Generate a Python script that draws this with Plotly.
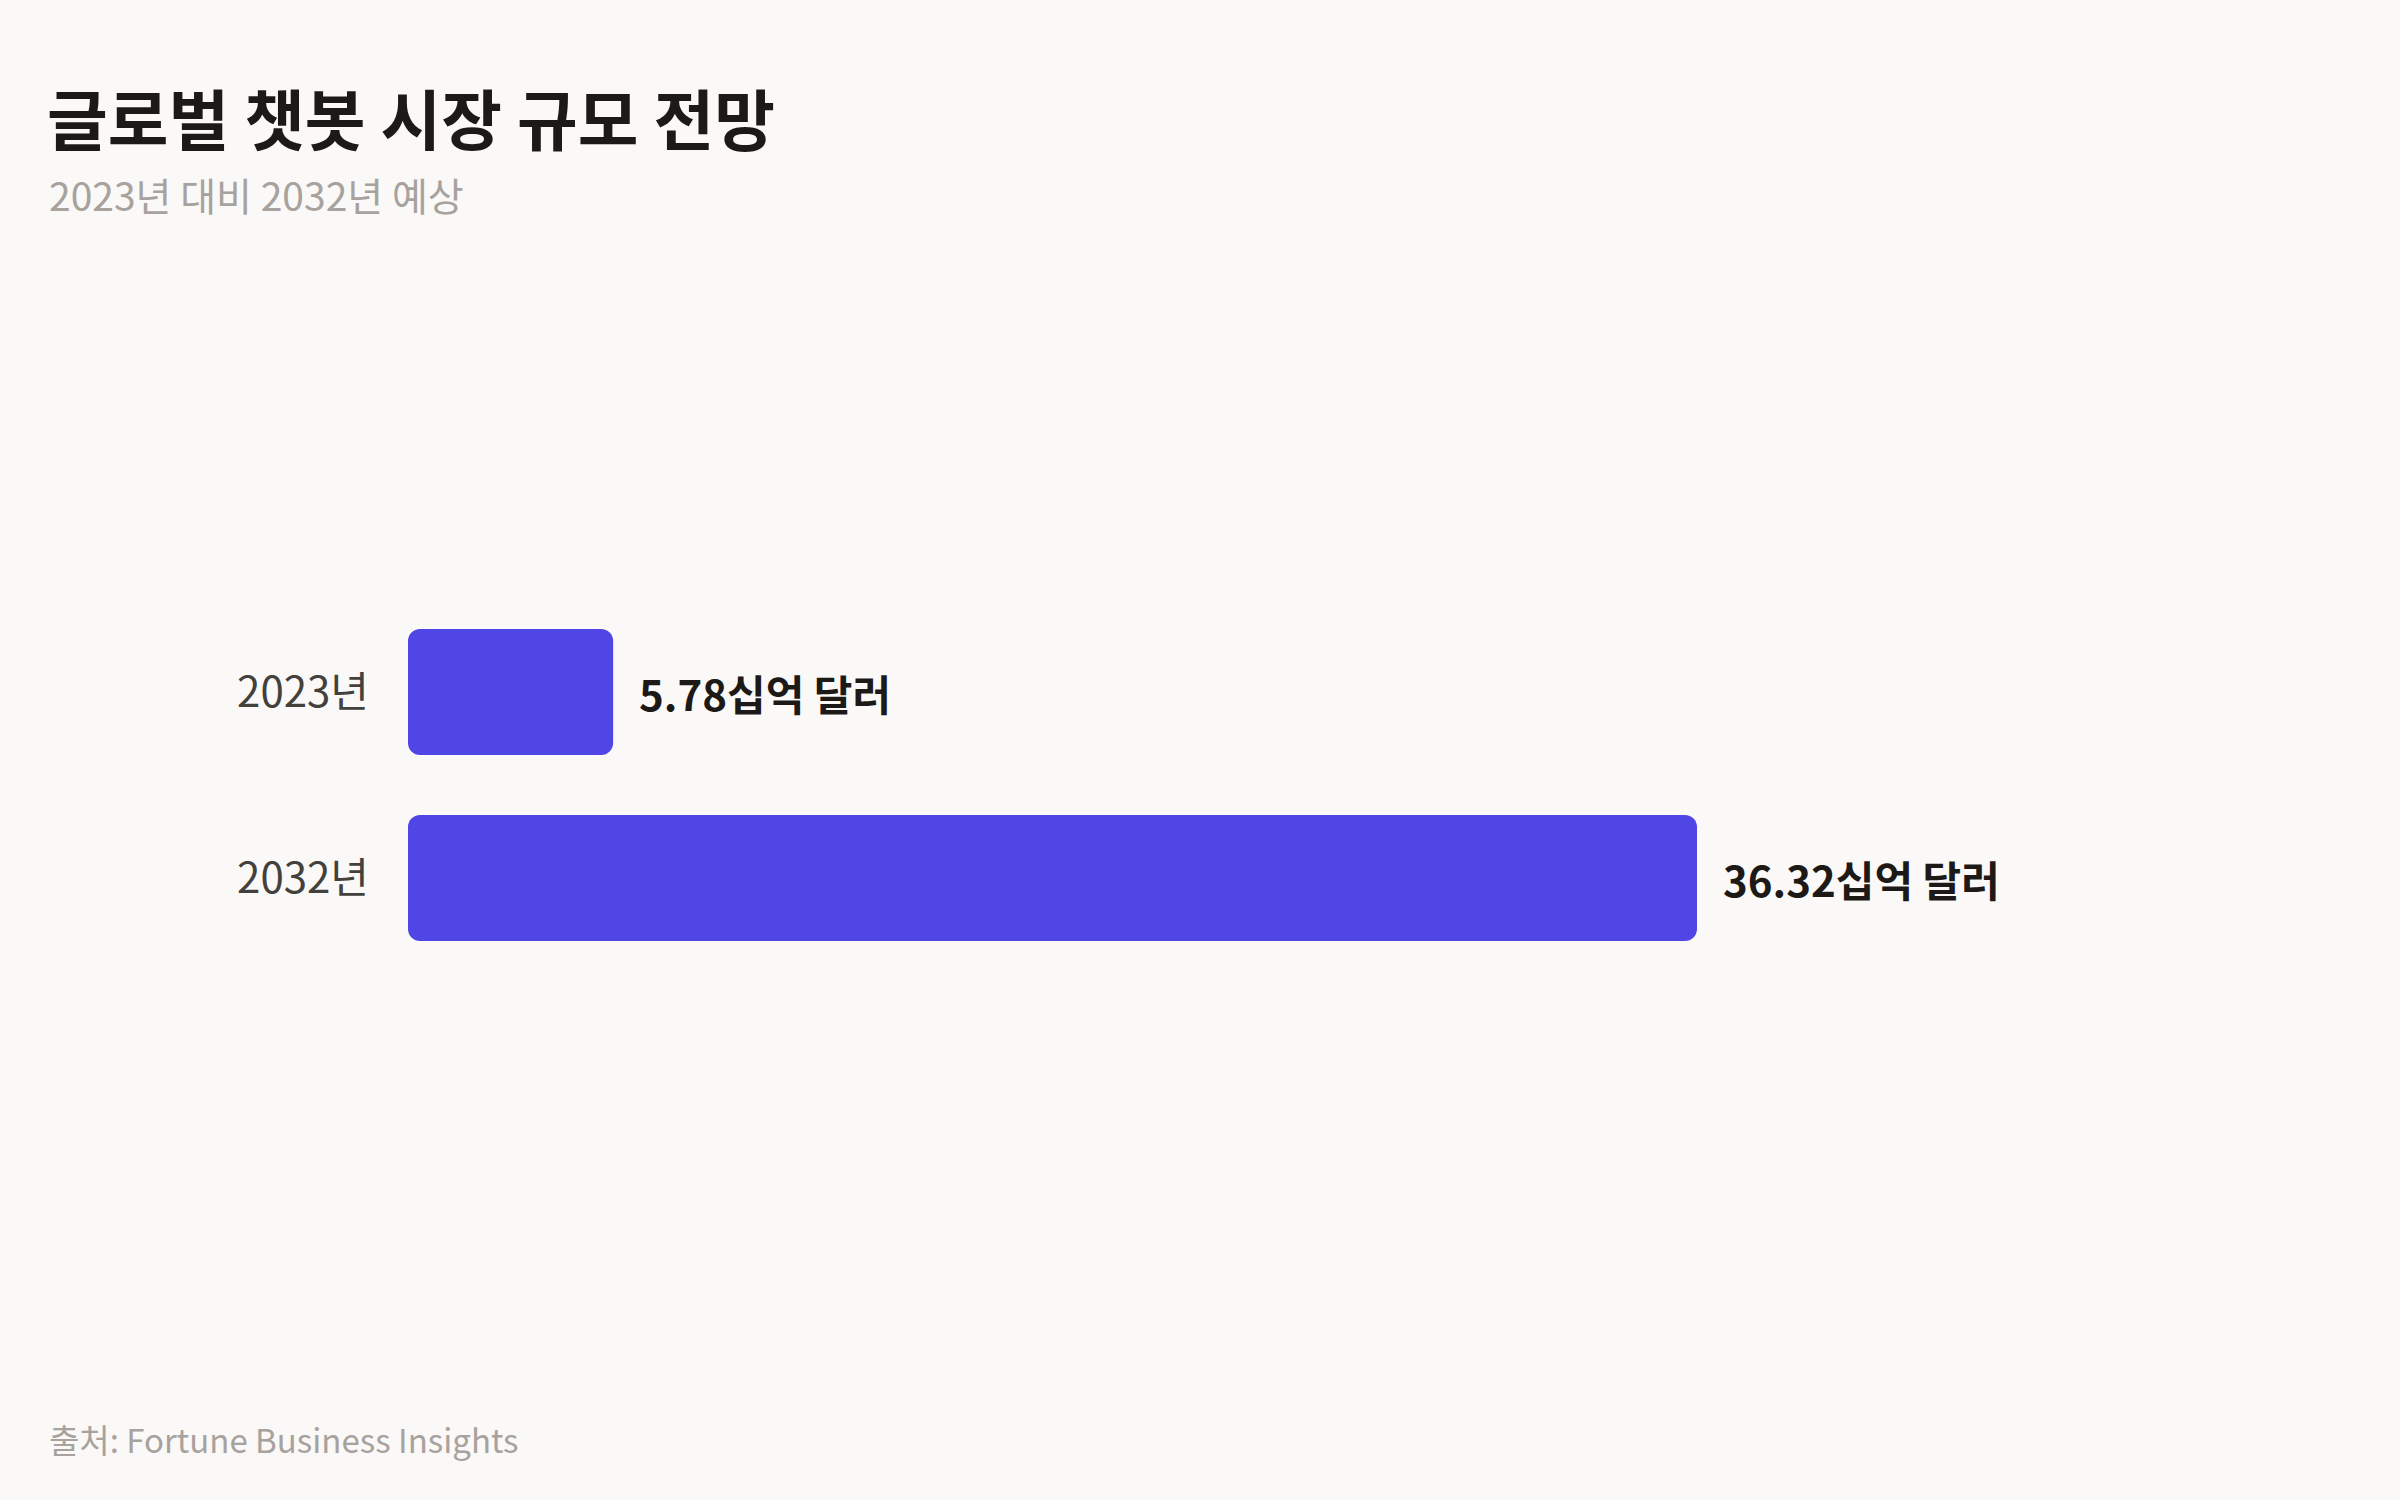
import plotly.graph_objects as go

# Data
years = ['2023년', '2032년']
market_size = [5.78, 36.32]  # 십억 달러
unit_label = '십억 달러'

title_text = '글로벌 챗봇 시장 규모 전망'
subtitle_text = '2023년 대비 2032년 예상'
source_text = '출처: Fortune Business Insights'

# Page geometry (pixels)
W, H = 2400, 1500
L, R, T, B = 408, 572, 599, 529
pw, ph = W - L - R, H - T - B

BG = '#faf9f7'
BAR = '#4f46e5'
FONT = 'Noto Sans CJK KR'


def px_x(px):
    return (px - L) / pw


def px_y(py):
    return (H - B - py) / ph


fig = go.Figure()

# Each bar is drawn as two overlapping halves so both ends get rounded corners
left_base = [v * 0.6 for v in market_size]
left_len = [-v * 0.6 for v in market_size]
right_base = [v * 0.4 for v in market_size]
right_len = [v * 0.6 for v in market_size]

fig.add_trace(go.Bar(
    y=years, x=left_len, base=left_base, orientation='h',
    marker=dict(color=BAR, cornerradius=12, line=dict(width=0)),
    hoverinfo='skip', showlegend=False
))
fig.add_trace(go.Bar(
    y=years, x=right_len, base=right_base, orientation='h',
    marker=dict(color=BAR, cornerradius=12, line=dict(width=0)),
    customdata=market_size,
    hovertemplate='%{y}: %{customdata}' + unit_label + '<extra></extra>',
    showlegend=False
))

# Value labels at the end of each bar
for yr, v in zip(years, market_size):
    fig.add_annotation(
        x=v, y=yr, xref='x', yref='y',
        text=f'<b>{v:.2f}{unit_label}</b>',
        xanchor='left', yanchor='middle', xshift=24, showarrow=False,
        font=dict(family=FONT, size=42, color='#1c1917')
    )

# Subtitle and source
fig.add_annotation(
    x=px_x(47), y=px_y(194), xref='paper', yref='paper',
    text=subtitle_text, xanchor='left', yanchor='middle', showarrow=False,
    font=dict(family=FONT, size=39, color='#a8a29e')
)
fig.add_annotation(
    x=px_x(47), y=px_y(1439), xref='paper', yref='paper',
    text=source_text, xanchor='left', yanchor='middle', showarrow=False,
    font=dict(family=FONT, size=33, color='#a8a29e')
)

fig.update_layout(
    width=W, height=H,
    paper_bgcolor=BG, plot_bgcolor=BG,
    margin=dict(l=L, r=R, t=T, b=B, autoexpand=False),
    barmode='overlay', bargap=60 / 186,
    title=dict(
        text=f'<b>{title_text}</b>',
        x=47 / W, xref='container', xanchor='left',
        y=1 - 122 / H, yref='container', yanchor='middle',
        font=dict(family=FONT, size=66, color='#1c1917')
    ),
    xaxis=dict(range=[0, pw / 35.49], visible=False, fixedrange=True),
    yaxis=dict(
        autorange='reversed', showgrid=False, zeroline=False, showline=False,
        ticks='', ticklabelstandoff=38, fixedrange=True,
        tickfont=dict(family=FONT, size=42, color='#44403c')
    ),
    font=dict(family=FONT)
)

fig.write_html(
    'out.html',
    config={'displayModeBar': False},
    post_script="document.body.style.margin='0';"
)
